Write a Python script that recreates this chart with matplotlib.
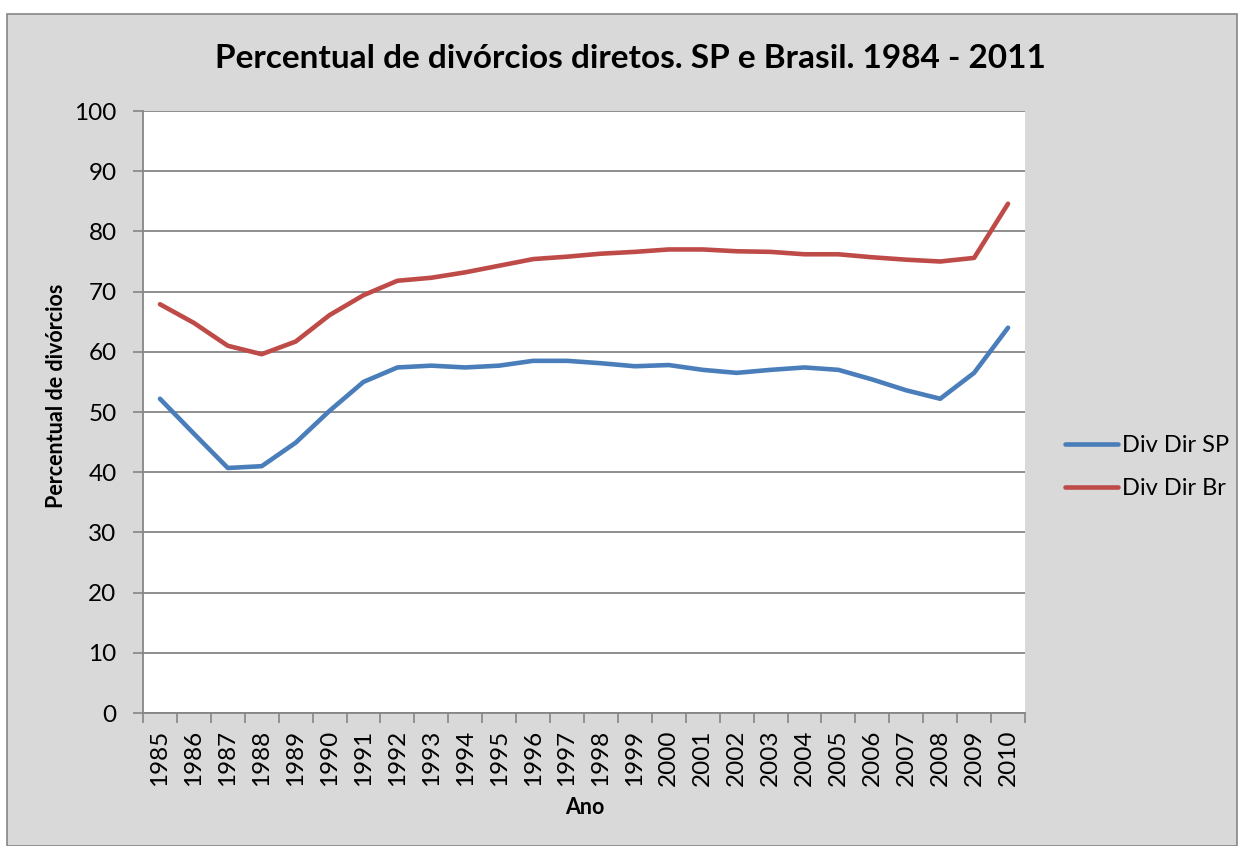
import numpy as np
import matplotlib.pyplot as plt
from matplotlib.patches import Rectangle

plt.rcParams['font.family'] = ['Lato', 'DejaVu Sans']

anos = list(range(1985, 2011))
div_sp = [52.2, 46.4, 40.7, 41.0, 44.9, 50.2, 55.0, 57.4, 57.7, 57.4, 57.7, 58.5, 58.5,
          58.1, 57.6, 57.8, 57.0, 56.5, 57.0, 57.4, 57.0, 55.4, 53.6, 52.2, 56.5, 64.0]
div_br = [67.9, 64.8, 61.0, 59.6, 61.7, 66.1, 69.4, 71.8, 72.3, 73.2, 74.3, 75.4, 75.8,
          76.3, 76.6, 77.0, 77.0, 76.7, 76.6, 76.2, 76.2, 75.7, 75.3, 75.0, 75.6, 84.6]

W, H = 1239, 846
fig = plt.figure(figsize=(W/100, H/100), dpi=100, facecolor='white')
# fundo cinza do grafico (estilo Excel)
fig.patches.append(Rectangle((7/W, 0), 1 - 9/W, 1 - 14/H,
                             transform=fig.transFigure, facecolor='#D9D9D9',
                             edgecolor='#868686', linewidth=1.2, zorder=-10))

ax = fig.add_axes([143/W, 1 - 713/H, (1025 - 143)/W, (713 - 111)/H])
ax.set_facecolor('white')

x = np.arange(len(anos))
ax.plot(x, div_sp, color='#4A7EBB', lw=3.3, label='Div Dir SP', solid_capstyle='round', zorder=3)
ax.plot(x, div_br, color='#BE4B48', lw=3.3, label='Div Dir Br', solid_capstyle='round', zorder=3)

ax.set_xlim(-0.5, len(anos) - 0.5)
ax.set_ylim(0, 100)
ax.set_yticks(range(0, 101, 10))
ax.yaxis.grid(True, color='#868686', lw=1.3)
ax.set_axisbelow(True)

ax.set_xticks(x)
ax.set_xticklabels([str(a) for a in anos], rotation=90, fontsize=17.5)
ax.set_xticks(np.arange(-0.5, len(anos), 1), minor=True)
ax.tick_params(axis='x', which='major', length=0, pad=12)
ax.tick_params(axis='x', which='minor', length=7, color='#868686', width=1.2)
ax.tick_params(axis='y', length=7, color='#868686', width=1.2, labelsize=17.5, pad=12)

for s in ['top', 'right']:
    ax.spines[s].set_visible(False)
for s in ['left', 'bottom']:
    ax.spines[s].set_color('#868686')
    ax.spines[s].set_linewidth(1.3)

fig.text(630/W, 1 - 58/H, 'Percentual de divórcios diretos. SP e Brasil. 1984 - 2011',
         ha='center', va='center', fontsize=24, fontweight='bold')
ax.set_xlabel('Ano', fontsize=15.5, fontweight='bold', va='center')
ax.xaxis.set_label_coords((585 - 143)/882, (713 - 807)/602)
ax.set_ylabel('Percentual de divórcios', fontsize=15.5, fontweight='bold', va='center')
ax.yaxis.set_label_coords((57 - 143)/882, (713 - 396)/602)

fig.legend(loc='center left', bbox_to_anchor=(1065/W, 1 - 467/H), frameon=False,
           fontsize=17, handlelength=2.25, handletextpad=0.17, labelspacing=0.95,
           borderpad=0, borderaxespad=0)

fig.savefig('out.png', dpi=100, facecolor=fig.get_facecolor())
